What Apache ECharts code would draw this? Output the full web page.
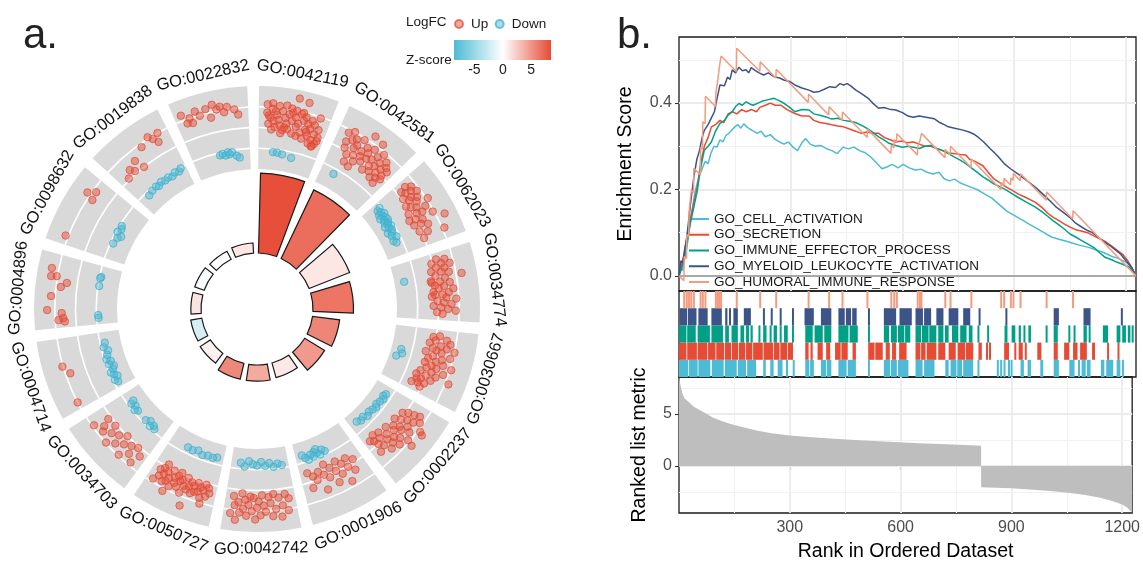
<!DOCTYPE html>
<html><head><meta charset="utf-8">
<script src="https://cdn.jsdelivr.net/npm/echarts@6/dist/echarts.min.js"></script>
<style>html,body{margin:0;padding:0;background:#fff}#c{width:1143px;height:564px}</style>
</head><body><div id="c"></div>
<script>
// ---------------- DATA: panel a (GO circle) ----------------
const goTerms = ['GO:0042119','GO:0042581','GO:0062023','GO:0034774','GO:0030667','GO:0002237','GO:0001906',
  'GO:0042742','GO:0050727','GO:0034703','GO:0004714','GO:0004896','GO:0098632','GO:0019838','GO:0022832'];
// inner bar height (-log10 adj. p, estimated) and z-score (bar colour)
const barHeight = [39.5, 37.5, 21.5, 20, 13.5, 11.5, 7.5, 8, 8, 6, 5.5, 5, 5, 4.5, 5];
const zScore = [8.3, 6.9, 1.1, 6.5, 5.7, 4.8, 1.0, 4.0, 5.6, 0.6, -2.0, 1.3, -0.4, 0.0, 1.1];
const zTicks = [-5, 0, 5];
const zRange = [-8.6, 8.5];
const lfcGrid = [0, 3, 6];
// genes per term: [position inside the term's slot (0..19), logFC]
const upPts = [
 [[1.5,5.2],[2.5,4.5],[2,3.6],[3,5.8],[3.5,4.0],[4,3.2],[4.5,5.0],[5,4.3],[5.5,3.5],[6,5.6],[6.5,2.9],[7,4.7],[7.5,3.9],[8,5.3],[8.5,6.2],[8,3.1],[9,4.4],[9.5,2.6],[10,5.0],[10.5,3.7],[11,4.2],[11.5,5.7],[12,3.0],[12.5,4.8],[13,2.2],[13,5.4],[13.5,3.6],[14,4.5],[14.5,2.8],[15,5.1],[15,3.9],[15.5,1.8],[16,4.6],[16,2.4],[16.5,3.3],[17,5.8],[17,1.6],[17.5,4.1],[17.5,2.0],[18,3.0],[18,2.5],[16.8,1.5],[6,2.4],[3,2.8],[10,6.0],[11,2.4],[10,7.8],[12.8,7.5],[2,4.8],[4,5.5],[7,3.3],[9,5.6],[12,5.9],[14,3.3],[1.5,6.4],[3,6.6],[5,6.3],[7,6.5]],
 [[2,5.5],[2.5,4.2],[3,3.3],[3.5,6.0],[4,4.8],[4.5,2.6],[5,5.2],[5.5,3.9],[6,4.5],[6.5,3.0],[7,5.7],[7.5,2.2],[8,4.1],[8.5,3.4],[9,5.0],[9,7.0],[9.5,2.8],[10,4.4],[10.5,3.6],[11,5.4],[11.5,2.0],[12,4.0],[12,6.7],[12.5,3.0],[13,4.8],[13.5,2.4],[14,5.6],[14,3.5],[14.5,4.3],[15,1.8],[15.5,2.9],[16,5.0],[16,3.7],[16.5,2.3],[17,4.4],[17,1.5],[17.5,3.1],[18,2.6],[18,4.0],[5,1.5],[7,1.2]],
 [[1,4.5],[1.5,3.6],[2,5.2],[2.5,4.0],[3,4.8],[3.5,3.2],[4,5.5],[4.5,4.3],[5,3.8],[5.5,5.0],[6,2.9],[6.5,4.6],[7,3.4],[7.5,6.2],[8,4.1],[8.5,2.6],[9,5.3],[9.5,3.7],[10,4.5],[10.5,2.2],[11,3.1],[11.5,5.8],[12,4.0],[12.5,2.5],[13,3.5],[13.5,7.2],[14,4.4],[15,2.8],[16,3.9],[17,6.3],[17.5,3.0]],
 [[1,3.6],[1.5,4.8],[2,2.8],[2.5,4.2],[3,5.4],[3.5,3.3],[4,4.5],[4.5,2.5],[5,3.9],[5.5,5.0],[6,3.0],[6.5,6.8],[7,4.3],[7.5,2.2],[8,3.5],[8.5,4.9],[9,2.7],[9.5,4.0],[10,3.2],[10.5,5.3],[11,2.4],[11.5,4.6],[12,3.7],[12.5,2.1],[13,4.2],[13.5,5.6],[14,2.9],[14.5,3.8],[15,4.9],[15.5,2.3],[16,3.4],[16.5,4.4],[17,5.5],[17.5,2.8],[18,3.6],[12,2.6],[8,2.3]],
 [[1,3.5],[1.5,2.6],[2,4.6],[2.5,3.0],[3,5.2],[3.5,2.2],[4,3.9],[4.5,4.8],[5,2.8],[5.5,3.4],[6,4.2],[6.5,1.9],[7,5.6],[7.5,3.1],[8,4.5],[8.5,2.5],[9,3.7],[9.5,4.9],[10,2.2],[10.5,3.3],[11,4.1],[11.5,2.7],[12,5.3],[12.5,3.6],[13,2.0],[13.5,4.4],[14,3.0],[14.5,1.6],[15,3.9],[15.5,2.5],[16,1.9],[16.5,3.2],[17,2.3],[17.5,1.4],[18,2.8],[14,6.5],[10,6.2],[5,6.0]],
 [[2,5.0],[2.5,4.2],[3,3.3],[3.5,5.5],[4,2.6],[4.5,4.7],[5,3.8],[5.5,6.3],[6,3.0],[6.5,4.4],[7,2.2],[7.5,5.1],[8,3.5],[8.5,4.0],[9,2.7],[9.5,5.7],[10,3.2],[10.5,4.6],[11,2.0],[11.5,3.9],[12,5.2],[12.5,2.8],[13,4.3],[13.5,3.4],[14,1.8],[14.5,4.8],[15,2.5],[15.5,3.7],[16,1.5],[16.5,3.0],[17,2.3],[17.5,4.1],[18,1.9],[10,6.6],[6,6.8]],
 [[2,2.5],[3,4.0],[4,1.8],[4.5,3.1],[5.5,5.2],[6,2.2],[7,3.6],[7.5,1.5],[8.5,2.8],[9,4.5],[10,2.0],[11,3.3],[11.5,1.2],[12.5,2.6],[13,4.8],[14,1.9],[15,3.0],[16,2.3],[17,3.9],[17.5,1.6]],
 [[1,4.5],[1.5,6.2],[2,3.8],[3,5.4],[3.5,7.0],[4,4.2],[5,5.8],[5.5,3.6],[6,6.8],[6.5,4.9],[7,4.0],[8,6.1],[8.5,5.2],[9,3.7],[9.5,6.6],[10,4.6],[10.5,5.5],[11,7.2],[11.5,4.1],[12,6.0],[12.5,3.9],[13,5.1],[13.5,6.7],[14,4.4],[14.5,5.7],[15,3.5],[15.5,6.3],[16,4.8],[16.5,7.4],[17,5.3],[17.5,4.0],[18,6.5]],
 [[1,4.3],[1.5,3.6],[2,4.9],[2.5,3.2],[3,4.1],[3.5,5.3],[4,3.8],[4.5,4.5],[5,3.3],[5.5,4.7],[6,3.9],[6.5,5.1],[7,3.5],[7.5,4.2],[8,4.8],[8.5,3.1],[9,4.4],[9.5,5.6],[10,3.7],[10.5,4.0],[11,5.0],[11.5,3.4],[12,4.6],[12.5,3.9],[13,5.4],[13.5,3.0],[14,4.3],[14.5,4.9],[15,3.6],[15.5,5.2],[16,4.1],[16.5,3.3],[17,4.7],[17.5,3.8],[18,5.5],[8,7.3],[14,6.4],[3,6.1],[16,2.6],[11,2.8]],
 [[1,4.0],[2,5.5],[3,3.2],[4,4.7],[5,3.6],[6,5.8],[7,4.2],[8,3.0],[9,5.0],[10,3.8],[11,5.9],[12,4.4],[13,3.3],[14,5.2],[15,4.6],[16,3.5],[17,5.7]],
 [[12,6.1],[9.5,5.3],[1,6.0]],
 [[15.8,7.0],[13.6,6.9],[13.8,6.1],[10.9,5.3],[12.3,4.5],[8.1,6.6],[4.2,7.1],[3.3,5.0],[1.3,5.5],[1.8,4.8],[0.8,4.6]],
 [[15,6.5],[16.5,5.5],[14,5.3],[1.5,6.4]],
 [[2,3.2],[4,4.0],[5,3.4],[7,4.5],[8,3.0],[11,5.5],[14,6.2],[15,5.6],[16,4.8],[17,6.0]],
 [[1,6.8],[2,5.4],[3,6.0],[3.5,5.2],[5,6.7],[6,5.9],[8,6.6],[9,5.2],[10,7.0],[11,6.2],[12,6.5],[13,5.6],[14,6.3],[16,5.8],[17,5.0]]
];
const downPts = [
 [[4.3,-0.45],[5.8,-0.45],[7.7,-0.6],[11.2,-0.85]],
 [[4,-0.8]],
 [[1,-0.3],[1.5,-0.8],[2.5,-0.5],[3,-1.0],[3.5,-0.2],[4,-0.6],[4.5,-1.2],[5,-0.4],[5.5,-0.8],[6,-0.3],[6.5,-1.0],[7,-0.5],[7.5,-0.7],[8,-1.3],[8.5,-0.4],[9,-0.9],[10,-0.6],[10.5,-1.4],[11,-0.8],[12,-1.1],[13,-0.5],[14,-1.2],[15,-0.9]],
 [[6,-1.6]],
 [[8,-1.6],[9.5,-1.3],[11,-2.0]],
 [[2,-0.9],[3,-1.1],[4,-0.8],[5.5,-1.0],[7,-1.2],[8,-0.9],[9.5,-1.1],[11,-1.3],[12.5,-1.0],[14,-1.4],[15.5,-1.2],[17,-1.5]],
 [[9,-0.5],[10,-0.9],[11,-0.3],[12,-0.7],[13,-1.0],[13.5,-0.4],[14.5,-0.8],[15.5,-0.2],[16.5,-0.6],[17.5,-1.1],[12,-1.3]],
 [[1.5,-0.4],[3,-0.7],[4.5,-0.3],[6,-0.9],[7.5,-0.5],[9,-1.1],[10.5,-0.6],[12,-0.8],[13.5,-1.2],[15,-0.4],[16.5,-0.9]],
 [[1.5,-1.0],[3,-0.8],[5,-0.9],[7,-0.7],[9,-1.1],[11,-0.8],[13,-0.9]],
 [[3,-0.4],[4,-0.7],[5,-0.3],[6,-0.9],[7.5,-0.5],[12,-0.6],[13,-0.3],[14,-0.8],[15.5,-0.5],[16,-1.0]],
 [[1,-0.6],[2,-0.3],[3,-0.9],[4,-0.5],[5,-0.2],[6,-0.7],[7,-1.0],[8,-0.4],[9,-0.8],[10,-0.3],[11.5,-0.6],[13,-0.9],[14.5,-0.4],[16,-0.7]],
 [[16.1,-0.26],[15.6,-0.14],[12.8,-0.19],[2.3,-0.27],[1.3,-0.3]],
 [[12,-0.3],[11,-0.5],[9.5,-0.2],[7.5,-0.6],[5,-0.4],[8.5,-1.0]],
 [[3,-0.6],[5,-0.4],[7,-0.3],[8,-0.5],[9.5,-0.2],[11,-0.4],[12.5,-0.3],[14,-0.5],[15.5,-0.2],[17,-0.4],[18,-0.1]],
 [[9,-0.4],[10,-0.3],[11,-0.6],[12,-0.2],[12.5,-0.5],[13.5,-0.3],[15,-0.9],[16,-1.2]]
];

// ---------------- DATA: panel b (GSEA) ----------------
const setNames = ['GO_CELL_ACTIVATION','GO_SECRETION','GO_IMMUNE_EFFECTOR_PROCESS','GO_MYELOID_LEUKOCYTE_ACTIVATION','GO_HUMORAL_IMMUNE_RESPONSE'];
const esCell = [[0,0],[5,0.02],[10,0.012],[15,0.04],[21,0.065],[28,0.11],[35,0.15],[42,0.19],[49,0.215],[56,0.235],[63,0.25],[70,0.265],[78,0.26],[86,0.285],[94,0.3],[102,0.298],[110,0.315],[118,0.31],[126,0.325],[134,0.33],[142,0.338],[150,0.345],[158,0.35],[166,0.342],[174,0.352],[182,0.345],[190,0.34],[200,0.335],[210,0.33],[220,0.335],[232,0.322],[245,0.327],[258,0.316],[270,0.31],[282,0.305],[294,0.31],[306,0.298],[318,0.29],[330,0.308],[340,0.318],[352,0.305],[366,0.3],[380,0.302],[395,0.295],[410,0.29],[425,0.283],[440,0.298],[455,0.294],[470,0.298],[485,0.29],[500,0.285],[515,0.275],[530,0.262],[545,0.248],[558,0.252],[572,0.258],[588,0.25],[602,0.258],[618,0.25],[634,0.245],[650,0.247],[666,0.24],[682,0.236],[698,0.24],[712,0.225],[726,0.22],[740,0.224],[755,0.215],[770,0.21],[785,0.205],[800,0.2],[820,0.19],[840,0.18],[860,0.165],[880,0.15],[900,0.14],[920,0.13],[940,0.12],[960,0.11],[980,0.1],[1000,0.09],[1020,0.085],[1040,0.08],[1060,0.075],[1080,0.07],[1100,0.066],[1120,0.06],[1140,0.054],[1160,0.046],[1180,0.04],[1200,0.032],[1215,0.02],[1227,0]];
const esSecretion = [[0,0],[8,0.03],[14,0.05],[21,0.09],[30,0.13],[40,0.17],[49,0.205],[58,0.26],[68,0.3],[78,0.32],[87,0.345],[98,0.35],[110,0.36],[120,0.355],[132,0.375],[143,0.38],[155,0.375],[168,0.385],[180,0.38],[195,0.385],[208,0.38],[217,0.39],[232,0.395],[245,0.4],[258,0.395],[274,0.395],[290,0.385],[311,0.376],[330,0.37],[349,0.37],[362,0.36],[378,0.355],[395,0.353],[410,0.35],[426,0.347],[442,0.345],[458,0.34],[474,0.335],[489,0.33],[505,0.333],[520,0.33],[536,0.33],[552,0.32],[567,0.315],[582,0.31],[598,0.312],[613,0.308],[629,0.31],[645,0.305],[660,0.3],[676,0.3],[692,0.295],[708,0.29],[723,0.285],[740,0.283],[755,0.281],[770,0.28],[780,0.27],[795,0.265],[816,0.255],[830,0.24],[845,0.225],[863,0.215],[880,0.205],[895,0.198],[910,0.19],[930,0.182],[957,0.17],[975,0.158],[990,0.145],[1004,0.136],[1020,0.128],[1035,0.12],[1050,0.113],[1065,0.107],[1080,0.104],[1097,0.1],[1115,0.092],[1130,0.086],[1144,0.08],[1160,0.07],[1175,0.06],[1191,0.05],[1205,0.035],[1215,0.02],[1227,0]];
const esImmune = [[0,0],[8,0.02],[14,0.04],[21,0.074],[30,0.12],[40,0.16],[49,0.197],[58,0.25],[68,0.291],[78,0.3],[87,0.31],[98,0.335],[110,0.353],[122,0.36],[132,0.372],[143,0.38],[152,0.392],[161,0.399],[170,0.395],[180,0.403],[190,0.398],[199,0.395],[212,0.4],[225,0.405],[240,0.408],[255,0.411],[270,0.405],[283,0.399],[297,0.39],[311,0.38],[330,0.385],[349,0.384],[362,0.375],[378,0.372],[395,0.368],[410,0.363],[426,0.365],[442,0.36],[458,0.358],[474,0.355],[498,0.345],[516,0.335],[536,0.322],[550,0.315],[564,0.307],[582,0.302],[600,0.298],[615,0.3],[629,0.298],[645,0.295],[660,0.3],[676,0.302],[692,0.295],[708,0.29],[723,0.283],[740,0.275],[755,0.268],[770,0.26],[785,0.25],[800,0.24],[816,0.229],[830,0.222],[845,0.213],[863,0.206],[880,0.198],[895,0.19],[910,0.182],[930,0.172],[957,0.159],[975,0.148],[990,0.138],[1004,0.128],[1020,0.118],[1035,0.108],[1050,0.097],[1065,0.09],[1080,0.082],[1097,0.074],[1115,0.065],[1130,0.053],[1144,0.043],[1160,0.038],[1175,0.032],[1191,0.027],[1210,0.02],[1227,0]];
const esMyeloid = [[0,0],[5,0.035],[10,0.03],[15,0.06],[21,0.089],[30,0.16],[40,0.23],[48,0.27],[55,0.29],[62,0.32],[68,0.337],[78,0.35],[86,0.364],[95,0.38],[102,0.41],[110,0.442],[115,0.446],[122,0.44],[130,0.46],[137,0.455],[143,0.477],[152,0.47],[161,0.483],[170,0.475],[180,0.477],[187,0.47],[194,0.482],[205,0.475],[215,0.47],[227,0.465],[240,0.47],[255,0.461],[270,0.458],[283,0.453],[297,0.45],[311,0.442],[330,0.435],[349,0.43],[362,0.425],[377,0.427],[390,0.432],[405,0.438],[420,0.436],[432,0.445],[442,0.442],[452,0.445],[461,0.44],[475,0.43],[490,0.422],[508,0.411],[520,0.4],[536,0.388],[550,0.39],[565,0.386],[582,0.384],[600,0.378],[615,0.37],[629,0.367],[645,0.37],[660,0.368],[685,0.364],[700,0.355],[712,0.35],[723,0.345],[740,0.342],[760,0.338],[779,0.333],[792,0.328],[802,0.322],[818,0.31],[835,0.295],[855,0.278],[873,0.26],[890,0.248],[910,0.236],[935,0.22],[957,0.205],[980,0.187],[1004,0.167],[1013,0.159],[1030,0.148],[1050,0.135],[1065,0.122],[1083,0.112],[1097,0.105],[1110,0.1],[1125,0.09],[1140,0.08],[1160,0.068],[1175,0.058],[1186,0.05],[1200,0.035],[1215,0.02],[1227,0]];
const esHumoral = [[0,0],[13,-0.011],[14,0.045],[20,0.04],[21,0.096],[26,0.091],[27,0.147],[32,0.143],[33,0.199],[39,0.193],[40,0.249],[57,0.234],[58,0.298],[63,0.293],[64,0.357],[70,0.352],[71,0.416],[98,0.392],[99,0.424],[103,0.42],[104,0.452],[107,0.449],[108,0.481],[112,0.477],[113,0.509],[154,0.473],[155,0.527],[217,0.4736],[218,0.4956],[260,0.4582],[261,0.4782],[347,0.4017],[348,0.4207],[402,0.3726],[403,0.3916],[438,0.3604],[439,0.3794],[505,0.3207],[506,0.3397],[569,0.2836],[570,0.3026],[577,0.2964],[578,0.3154],[584,0.3101],[585,0.3291],[640,0.2801],[641,0.2991],[646,0.2946],[647,0.3136],[650,0.3109],[651,0.3299],[714,0.2738],[715,0.2928],[728,0.2812],[729,0.3002],[784,0.2512],[785,0.2702],[864,0.1999],[865,0.2159],[872,0.2097],[873,0.2257],[890,0.2106],[891,0.2266],[897,0.2213],[898,0.2373],[916,0.2204],[917,0.2364],[986,0.175],[987,0.194],[1057,0.1318],[1058,0.151],[1227,0]];
// gene-set hits: single ranks or [from, to] runs of adjacent hits
const hitsCell = [[0,25],[27,50],[52,84],[88,120],[123,155],[158,180],[183,207],[226,233],[245,254],[265,278],[287,293],[306,310],[339,350],[352,362],[381,395],[397,409],[428,450],[453,475],510,[550,567],[569,585],[588,616],[635,654],[658,686],[715,724],[729,745],[747,760],[763,790],804,856,865,874,886,893,[917,926],[936,945],[970,978],[1006,1020],[1048,1062],1074,[1081,1092],[1095,1105],[1133,1142],[1147,1166],[1175,1185],1192];
const hitsSecretion = [[0,20],[22,48],[50,76],[78,98],[100,121],[123,140],[142,159],[161,178],[180,197],[199,225],[227,253],[255,270],[272,290],[292,306],[339,348],[353,359],[372,386],[395,406],[419,434],[436,453],[466,475],[508,525],[527,547],[555,566],[572,583],[591,611],[635,648],[650,662],[665,691],[696,715],[724,743],[748,768],[770,790],[804,813],827,835,[873,886],903,[912,923],931,[962,973],[1006,1017],[1034,1048],[1058,1070],[1077,1095],[1109,1117],1152,1180];
const hitsImmune = [[0,20],[22,45],[50,83],[87,118],[124,134],[141,158],[165,175],[180,188],[192,198],216,[226,235],246,[254,263],273,[282,292],306,[339,359],[364,386],[390,409],[428,455],[458,480],510,[550,564],[569,585],[588,605],[607,621],[635,650],[652,670],[672,691],[696,710],[714,724],[733,750],[755,772],[778,788],804,830,[874,882],[893,903],[912,918],[925,930],[938,945],987,[1006,1017],1048,1062,[1086,1095],[1100,1105],[1138,1152],[1175,1185],[1190,1200],[1205,1212],[1216,1220]];
const hitsMyeloid = [[2,22],[24,47],[52,77],[87,115],[124,130],137,[146,158],[174,193],228,249,273,306,[337,362],[381,409],[428,445],[448,462],[465,477],510,[550,583],[592,625],[635,655],[658,677],[691,710],[724,750],[763,782],807,879,[1006,1020],[1086,1105],1189];
const hitsHumoral = [14,21,27,33,40,58,64,71,99,104,108,113,155,218,261,348,403,439,506,570,578,585,641,647,651,715,729,785,865,873,891,898,917,987,1058];
// ranked list metric
const metric = [[0,8.6],[4,7.8],[9,7.0],[15,6.5],[25,6.2],[40,5.7],[66,5.2],[90,4.7],[113,4.35],[140,4.05],[160,3.85],[207,3.45],[250,3.15],[301,2.93],[350,2.8],[400,2.68],[442,2.57],[500,2.45],[583,2.3],[650,2.2],[724,2.1],[790,2.0],[818,1.95],[818,-2.05],[900,-2.15],[1006,-2.4],[1060,-2.6],[1100,-2.8],[1140,-3.05],[1175,-3.4],[1200,-3.7],[1213,-4.0],[1227,-4.5]];
const nGenes = 1227;
const rankTicks = [300, 600, 900, 1200];
const rankMinor = [150, 450, 750, 1050];
const esTicks = [0, 0.2, 0.4];
const esMinor = [0.1, 0.3, 0.5];
const metricTicks = [0, 5];
const metricMinor = [-2.5, 2.5, 7.5];

// ---------------- styling ----------------
const FONT = "'Liberation Sans', Arial, Helvetica, sans-serif";
const setColors = ['#4DBBD5', '#E64B35', '#00A087', '#3C5488', '#F39B7F'];
const zColors = ['#4DBBD5', '#FFFFFF', '#E64B35'];
const CX = 257, CY = 309;

const chart = echarts.init(document.getElementById('c'), null, {renderer: 'canvas', width: 1143, height: 564});

function slotAngles(api, cs, i) {
  const ang = v => { const p = api.coord([0, v]); return Math.atan2(p[1] - cs.cy, p[0] - cs.cx); };
  let a0 = ang(i + 1.5 / 24), a1 = ang(i + 22.5 / 24);
  if (a1 < a0) a1 += Math.PI * 2;
  return [a0, a1];
}

const series = [];
series.push({
  type: 'custom', coordinateSystem: 'polar', polarIndex: 1, silent: true, z: 1,
  data: goTerms.map((t, i) => [0, i + 0.5]),
  renderItem(params, api) {
    const cs = params.coordSys;
    const i = Math.floor(api.value(1));
    const [a0, a1] = slotAngles(api, cs, i);
    const children = [{type: 'sector', shape: {cx: cs.cx, cy: cs.cy, r0: cs.r0, r: cs.r, startAngle: a0, endAngle: a1, clockwise: true}, style: {fill: '#D9D9D9'}}];
    lfcGrid.forEach(g => {
      const p = api.coord([g, i + 0.5]);
      const r = Math.hypot(p[0] - cs.cx, p[1] - cs.cy);
      children.push({type: 'arc', shape: {cx: cs.cx, cy: cs.cy, r: r, startAngle: a0, endAngle: a1, clockwise: true}, style: {stroke: '#FFFFFF', lineWidth: 1.6, fill: null}});
    });
    return {type: 'group', children};
  }
});
function ptsData(list) {
  const out = [];
  list.forEach((arr, i) => arr.forEach(p => out.push([p[1], i + (2.5 + p[0]) / 24])));
  return out;
}
series.push({
  name: 'Up', type: 'scatter', coordinateSystem: 'polar', polarIndex: 1, z: 3, symbolSize: 7.5,
  itemStyle: {color: 'rgba(230,75,53,0.6)', borderColor: 'rgba(226,70,50,0.85)', borderWidth: 1},
  data: ptsData(upPts)
});
series.push({
  name: 'Down', type: 'scatter', coordinateSystem: 'polar', polarIndex: 1, z: 3, symbolSize: 7.5,
  itemStyle: {color: 'rgba(77,187,213,0.6)', borderColor: 'rgba(60,175,205,0.9)', borderWidth: 1},
  data: ptsData(downPts)
});
series.push({
  type: 'custom', coordinateSystem: 'polar', polarIndex: 1, silent: true, z: 4,
  data: goTerms.map((t, i) => [0, i + 0.5]),
  renderItem(params, api) {
    const cs = params.coordSys;
    const i = Math.floor(api.value(1));
    const p = api.coord([11.4, i + 0.5]);
    let th = Math.atan2(p[0] - cs.cx, -(p[1] - cs.cy)) * 180 / Math.PI;
    if (th < 0) th += 360;
    const rot = (th > 90 && th < 270) ? th - 180 : (th >= 270 ? th - 360 : th);
    return {type: 'text', x: p[0], y: p[1], rotation: -rot * Math.PI / 180,
      style: {text: goTerms[i], align: 'center', verticalAlign: 'middle', fontSize: 16.5, fontFamily: FONT, fill: '#111'}};
  }
});
const innerBarIndex = series.length;
series.push({
  type: 'bar', coordinateSystem: 'polar', polarIndex: 0, barCategoryGap: '20.8%', z: 2,
  itemStyle: {borderColor: '#1A1A1A', borderWidth: 1.2},
  data: barHeight.map((h, i) => [h, i, zScore[i]])
});
series.push({
  type: 'custom', xAxisIndex: 3, yAxisIndex: 3, silent: true, z: 2,
  data: [[0, 0.5]],
  renderItem(params, api) {
    const p0 = api.coord([zRange[0], 1]);
    const p1 = api.coord([zRange[1], 0]);
    const mid = (0 - zRange[0]) / (zRange[1] - zRange[0]);
    return {type: 'rect', shape: {x: p0[0], y: p0[1], width: p1[0] - p0[0], height: p1[1] - p0[1]},
      style: {fill: new echarts.graphic.LinearGradient(0, 0, 1, 0, [{offset: 0, color: zColors[0]}, {offset: mid, color: zColors[1]}, {offset: 1, color: zColors[2]}])}};
  }
});

const gridLine = (c, w) => ({color: c, width: w, type: 'solid'});
const major = gridLine('#EBEBEB', 1.8), minor = gridLine('#F1F1F1', 1.1);
[esCell, esSecretion, esImmune, esMyeloid, esHumoral].forEach((d, k) => {
  const s = {
    name: setNames[k], type: 'line', xAxisIndex: 0, yAxisIndex: 0, data: d, symbol: 'none', showSymbol: false, z: 3 + k,
    lineStyle: {color: setColors[k], width: 1.5}, itemStyle: {color: setColors[k]}
  };
  if (k === 0) {
    s.markLine = {silent: true, z: 1, symbol: ['none', 'none'], label: {show: false}, animation: false,
      emphasis: {disabled: true},
      data: [].concat(
        rankMinor.map(v => ({xAxis: v, lineStyle: minor})),
        rankTicks.map(v => ({xAxis: v, lineStyle: major})),
        esMinor.map(v => ({yAxis: v, lineStyle: minor})),
        esTicks.filter(v => v !== 0).map(v => ({yAxis: v, lineStyle: major})),
        [{yAxis: 0, lineStyle: {color: '#8C8C8C', width: 1.6, type: 'solid'}}]
      )};
  }
  series.push(s);
});
[hitsCell, hitsSecretion, hitsImmune, hitsMyeloid, hitsHumoral].forEach((hits, k) => {
  series.push({
    type: 'custom', xAxisIndex: 1, yAxisIndex: 1, silent: true, z: 2,
    itemStyle: {color: setColors[k]},
    encode: {x: [0, 1], y: 2},
    data: hits.map(h => Array.isArray(h) ? [h[0], h[1], k] : [h, h, k]),
    renderItem(params, api) {
      const a = api.value(0), b = api.value(1), row = api.value(2);
      const p0 = api.coord([a, row + 1]);
      const p1 = api.coord([b, row]);
      let x = p0[0], w = p1[0] - p0[0];
      if (w < 2) { x = (p0[0] + p1[0]) / 2 - 1; w = 2; }
      return {type: 'rect', shape: {x: x, y: p0[1], width: w, height: p1[1] - p0[1]}, style: {fill: api.visual('color')}};
    }
  });
});
series.push({
  type: 'line', xAxisIndex: 2, yAxisIndex: 2, data: metric, symbol: 'none', z: 2,
  lineStyle: {width: 0, color: '#BEBEBE'}, areaStyle: {color: '#BEBEBE', opacity: 1},
  markLine: {silent: true, z: 1, symbol: ['none', 'none'], label: {show: false}, animation: false,
    emphasis: {disabled: true},
    data: [].concat(
      rankMinor.map(v => ({xAxis: v, lineStyle: minor})),
      rankTicks.map(v => ({xAxis: v, lineStyle: major})),
      metricMinor.map(v => ({yAxis: v, lineStyle: minor})),
      metricTicks.map(v => ({yAxis: v, lineStyle: major}))
    )}
});

const axisLbl = {fontSize: 16, color: '#4D4D4D', fontFamily: FONT};
const tick = {show: true, length: 4, lineStyle: {color: '#333', width: 1.1}};
const frame = {show: true, borderColor: '#1A1A1A', borderWidth: 1.3, backgroundColor: 'transparent'};
const titleFont = {fontSize: 19.5, color: '#000', fontFamily: FONT};

const option = {
  animation: false,
  backgroundColor: '#FFFFFF',
  textStyle: {fontFamily: FONT},
  title: [
    {text: 'a.', left: 18, top: 10, textStyle: {fontSize: 42, fontWeight: 'normal', color: '#222', fontFamily: FONT}},
    {text: 'b.', left: 612, top: 10, textStyle: {fontSize: 42, fontWeight: 'normal', color: '#222', fontFamily: FONT}},
    {text: 'LogFC', left: 401, top: 10, textStyle: {fontSize: 13.5, fontWeight: 'normal', color: '#1A1A1A', fontFamily: FONT}},
    {text: 'Z-score', left: 401, top: 48, textStyle: {fontSize: 13.5, fontWeight: 'normal', color: '#1A1A1A', fontFamily: FONT}}
  ],
  legend: [
    {data: ['Up', 'Down'], left: 449, top: 12, icon: 'circle', itemWidth: 14, itemHeight: 8, itemGap: 6.4,
      textStyle: {fontSize: 13.5, color: '#1A1A1A', fontFamily: FONT}, selectedMode: false},
    {data: setNames.map(n => ({name: n, icon: 'rect'})), orient: 'vertical', left: 684, top: 207, itemWidth: 20, itemHeight: 2, itemGap: 1.75,
      textStyle: {fontSize: 13.5, color: '#1A1A1A', fontFamily: FONT, lineHeight: 14}, selectedMode: false}
  ],
  visualMap: [{type: 'continuous', show: false, seriesIndex: innerBarIndex, dimension: 2,
    min: zRange[0], max: zRange[1], inRange: {color: zColors}}],
  polar: [
    {center: [CX, CY], radius: [56, 137]},
    {center: [CX, CY], radius: [140, 223]}
  ],
  angleAxis: [
    {polarIndex: 0, type: 'category', data: goTerms, startAngle: 91, show: false},
    {polarIndex: 1, type: 'value', min: 0, max: 15, startAngle: 91, show: false}
  ],
  radiusAxis: [
    {polarIndex: 0, type: 'value', min: 0, max: 40, show: false},
    {polarIndex: 1, type: 'value', min: -3, max: 9, show: false}
  ],
  grid: [
    Object.assign({left: 679, top: 37, width: 457, height: 254}, frame),
    Object.assign({left: 679, top: 291, width: 457, height: 86}, frame),
    Object.assign({left: 679, top: 377, width: 457, height: 136}, frame),
    {left: 454, top: 40, width: 97, height: 20, show: false}
  ],
  xAxis: [
    {gridIndex: 0, type: 'value', min: 0, max: nGenes, show: false},
    {gridIndex: 1, type: 'value', min: 0, max: nGenes, show: false},
    {gridIndex: 2, type: 'value', min: 0, max: nGenes, axisLine: {show: false}, splitLine: {show: false},
      axisTick: Object.assign({customValues: rankTicks}, tick),
      axisLabel: Object.assign({customValues: rankTicks, margin: 7, formatter: v => String(v)}, axisLbl),
      name: 'Rank in Ordered Dataset', nameLocation: 'middle', nameGap: 29, nameTextStyle: titleFont},
    {gridIndex: 3, type: 'value', min: zRange[0], max: zRange[1], axisLine: {show: false}, splitLine: {show: false},
      axisTick: {show: true, inside: true, length: 4, customValues: zTicks, lineStyle: {color: '#FFFFFF', width: 1.2}},
      axisLabel: {customValues: zTicks, margin: 3, fontSize: 14, color: '#1A1A1A', fontFamily: FONT}},
    {gridIndex: 3, type: 'value', position: 'top', min: zRange[0], max: zRange[1], axisLine: {show: false}, splitLine: {show: false},
      axisTick: {show: true, inside: true, length: 4, customValues: zTicks, lineStyle: {color: '#FFFFFF', width: 1.2}},
      axisLabel: {show: false}}
  ],
  yAxis: [
    {gridIndex: 0, type: 'value', min: -0.035, max: 0.553, axisLine: {show: false}, splitLine: {show: false},
      axisTick: Object.assign({customValues: esTicks}, tick),
      axisLabel: Object.assign({customValues: esTicks, margin: 7, formatter: v => v.toFixed(1)}, axisLbl),
      name: 'Enrichment Score', nameLocation: 'middle', nameGap: 43, nameTextStyle: titleFont},
    {gridIndex: 1, type: 'value', min: 0, max: 5, show: false},
    {gridIndex: 2, type: 'value', min: -4.52, max: 8.56, axisLine: {show: false}, splitLine: {show: false},
      axisTick: Object.assign({customValues: metricTicks}, tick),
      axisLabel: Object.assign({customValues: metricTicks, margin: 7}, axisLbl),
      name: 'Ranked list metric', nameLocation: 'middle', nameGap: 29, nameTextStyle: titleFont},
    {gridIndex: 3, type: 'value', min: 0, max: 1, show: false}
  ],
  series: series
};
chart.setOption(option);
</script>
</body></html>
